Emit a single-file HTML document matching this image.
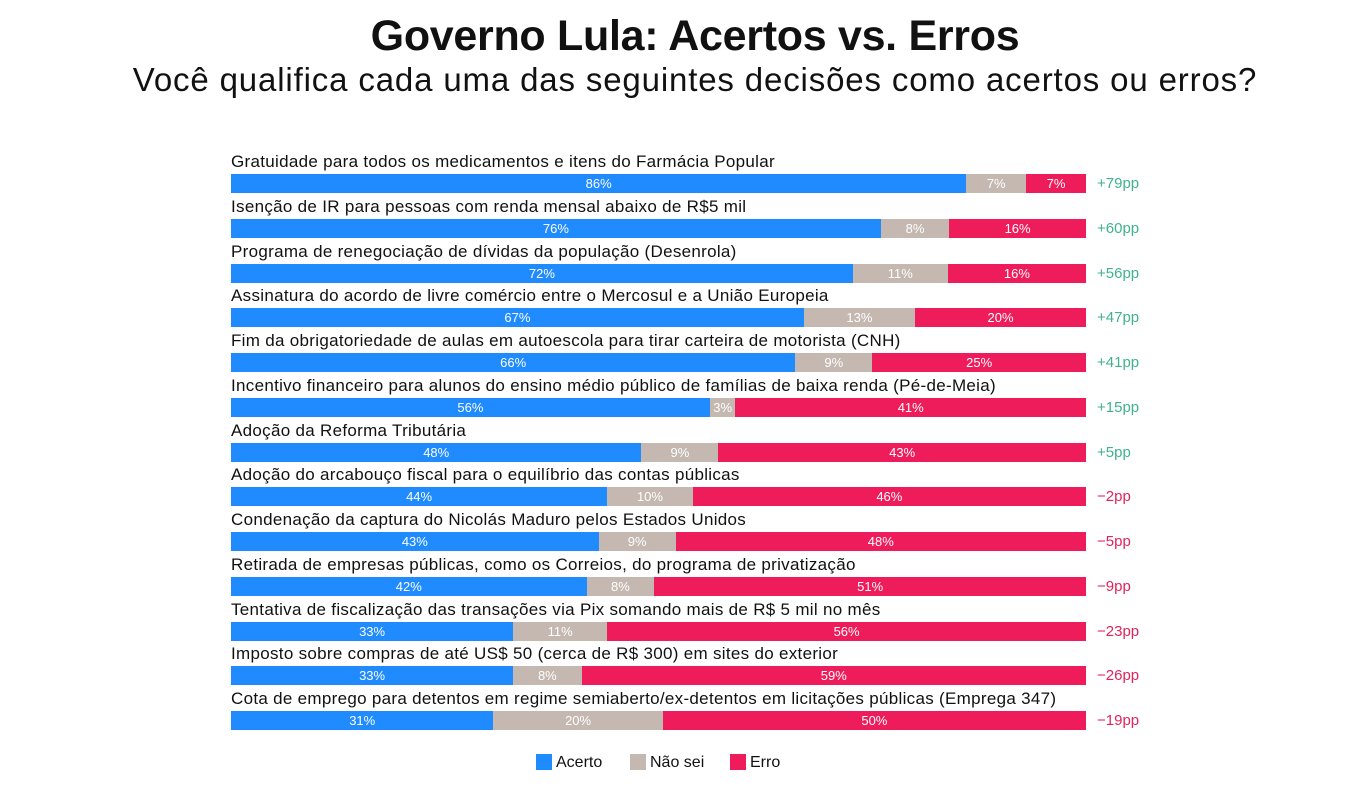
<!DOCTYPE html><html><head><meta charset="utf-8"><style>
body{margin:0;width:1348px;height:786px;background:#fff;font-family:"Liberation Sans",sans-serif;position:relative;overflow:hidden;color:#111}
.t{position:absolute;left:0;width:1390px;text-align:center;top:12px;font-size:43px;font-weight:bold;letter-spacing:-0.3px}
.s{position:absolute;left:0;width:1390px;text-align:center;top:61px;font-size:33px;letter-spacing:0.85px}
.row{position:absolute;left:231px;width:910px}
.lb{font-size:17px;height:20px;line-height:20px;white-space:nowrap;letter-spacing:0.3px;margin-top:1px}
.bar{display:flex;width:855px;height:19px;margin-top:2px}
.bar div{color:#fff;font-size:13px;line-height:19px;text-align:center;overflow:hidden}
.a{background:#1f8bff}.n{background:#c4b8b0}.e{background:#ee1c5a}
.pp{position:absolute;left:866px;top:23px;font-size:15px;line-height:19px}
.lg{position:absolute;top:754px;font-size:16px;line-height:18px}
.lg span{display:inline-block;width:16px;height:16px;vertical-align:-3px;margin-right:4px}
</style></head><body>
<div class="t">Governo Lula: Acertos vs. Erros</div>
<div class="s">Você qualifica cada uma das seguintes decisões como acertos ou erros?</div>
<div id="c"></div>
<div class="lg" style="left:536px"><span class="a"></span>Acerto</div>
<div class="lg" style="left:630px"><span class="n"></span>Não sei</div>
<div class="lg" style="left:730px"><span class="e"></span>Erro</div>
<script>
var d=[["Gratuidade para todos os medicamentos e itens do Farmácia Popular",86,7,7,"+79pp"],
["Isenção de IR para pessoas com renda mensal abaixo de R$5 mil",76,8,16,"+60pp"],
["Programa de renegociação de dívidas da população (Desenrola)",72,11,16,"+56pp"],
["Assinatura do acordo de livre comércio entre o Mercosul e a União Europeia",67,13,20,"+47pp"],
["Fim da obrigatoriedade de aulas em autoescola para tirar carteira de motorista (CNH)",66,9,25,"+41pp"],
["Incentivo financeiro para alunos do ensino médio público de famílias de baixa renda (Pé-de-Meia)",56,3,41,"+15pp"],
["Adoção da Reforma Tributária",48,9,43,"+5pp"],
["Adoção do arcabouço fiscal para o equilíbrio das contas públicas",44,10,46,"−2pp"],
["Condenação da captura do Nicolás Maduro pelos Estados Unidos",43,9,48,"−5pp"],
["Retirada de empresas públicas, como os Correios, do programa de privatização",42,8,51,"−9pp"],
["Tentativa de fiscalização das transações via Pix somando mais de R$ 5 mil no mês",33,11,56,"−23pp"],
["Imposto sobre compras de até US$ 50 (cerca de R$ 300) em sites do exterior",33,8,59,"−26pp"],
["Cota de emprego para detentos em regime semiaberto/ex-detentos em licitações públicas (Emprega 347)",31,20,50,"−19pp"]];
var h="";d.forEach(function(r,i){var top=151+i*44.75;var pos=r[4][0]=="+";
h+='<div class="row" style="top:'+top+'px"><div class="lb">'+r[0]+'</div><div class="bar"><div class="a" style="flex:'+r[1]+'">'+r[1]+'%</div><div class="n" style="flex:'+r[2]+'">'+r[2]+'%</div><div class="e" style="flex:'+r[3]+'">'+r[3]+'%</div></div><div class="pp" style="color:'+(pos?'#3fb38a':'#e0245a')+'">'+r[4]+'</div></div>';});
document.getElementById("c").innerHTML=h;
</script></body></html>
